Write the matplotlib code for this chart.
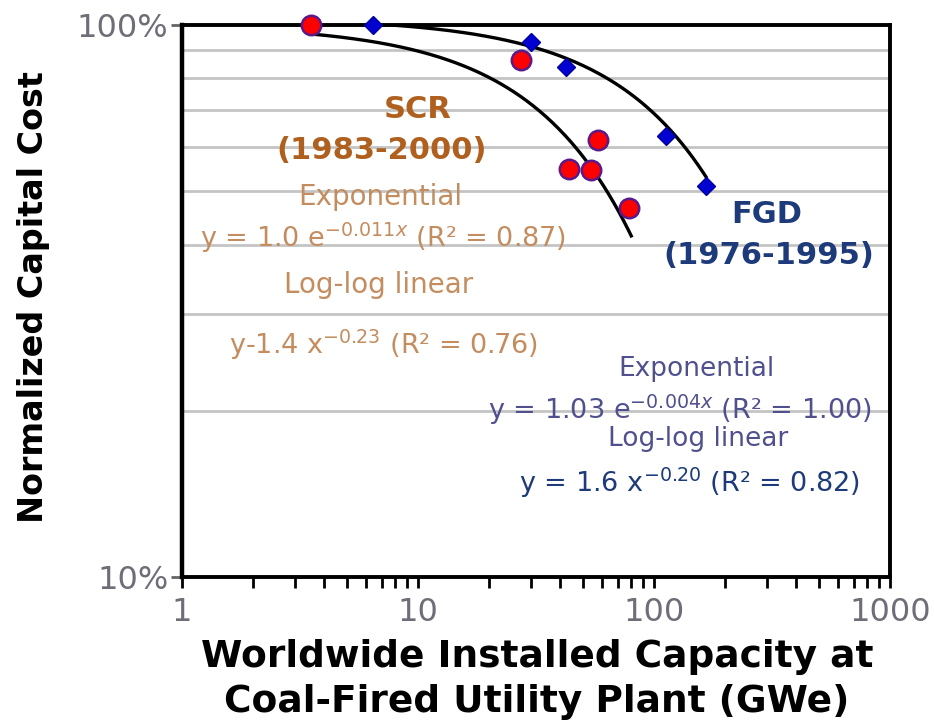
import numpy as np
import matplotlib
matplotlib.use('Agg')
import matplotlib.pyplot as plt
from matplotlib.ticker import FixedLocator, NullFormatter, LogLocator

# SCR observations (GWe, normalized capital cost)
scr_capacity = [3.5, 27.3, 57.9, 43.6, 54.1, 78.3]
scr_cost = [1.0, 0.864, 0.618, 0.547, 0.545, 0.465]

# FGD observations
fgd_capacity = [6.45, 30.1, 42.4, 112.4, 166.0]
fgd_cost = [1.0, 0.931, 0.839, 0.628, 0.51]

# exponential fits shown on the chart: y = a * exp(b * x)
scr_fit = (1.0, -0.011)
fgd_fit = (1.03, -0.004)
scr_fit_range = (3.5, 80)
fgd_fit_range = (4.0, 166)

x_ticks = [1, 10, 100, 1000]
x_tick_labels = ['1', '10', '100', '1000']
y_ticks = [0.1, 1.0]
y_tick_labels = ['10%', '100%']
grid_levels = [0.2, 0.3, 0.4, 0.5, 0.6, 0.7, 0.8, 0.9]

SCR_DARK = '#b0601e'
SCR_LIGHT = '#c48d5f'
FGD_DARK = '#1d3a7a'
FGD_LIGHT = '#50508f'
TICK_GREY = '#6e6e78'

plt.rcParams['font.family'] = ['DejaVu Sans']
plt.rcParams['mathtext.fontset'] = 'dejavusans'


def fit_curve(coef, xr):
    x = np.logspace(np.log10(xr[0]), np.log10(xr[1]), 200)
    return x, coef[0] * np.exp(coef[1] * x)


def note(ax, x, y, s, size, color, bold=False):
    ax.text(x, y, s, transform=ax.transAxes, ha='center', va='center',
            fontsize=size, color=color,
            fontweight='bold' if bold else 'normal')


def main():
    fig = plt.figure(figsize=(9.34, 7.27), dpi=100)
    ax = fig.add_axes([0.195, 0.206, 0.758, 0.76])
    ax.set_xscale('log')
    ax.set_yscale('log')
    ax.set_xlim(1, 1000)
    ax.set_ylim(0.1, 1.0)

    # horizontal grid at the minor decades
    for v in grid_levels:
        ax.axhline(v, color='#c4c4c4', lw=2, zorder=1)

    x, y = fit_curve(scr_fit, scr_fit_range)
    ax.plot(x, y, color='black', lw=2.4, zorder=3)
    x, y = fit_curve(fgd_fit, fgd_fit_range)
    ax.plot(x, y, color='black', lw=2.4, zorder=3)

    ax.plot(scr_capacity, scr_cost, 'o', color='#ff0000', mec='#5a1a8a',
            mew=1.8, ms=14, zorder=4, clip_on=False)
    ax.plot(fgd_capacity, fgd_cost, 'D', color='#0000d0', mec='#0000a0',
            ms=9.5, zorder=5, clip_on=False)

    for side in ['left', 'bottom', 'top', 'right']:
        ax.spines[side].set_color('black')
        ax.spines[side].set_linewidth(2.8)
    ax.spines['left'].set_linewidth(3.2)

    ax.xaxis.set_major_locator(FixedLocator(x_ticks))
    ax.set_xticklabels(x_tick_labels)
    ax.xaxis.set_minor_locator(LogLocator(base=10, subs=np.arange(2, 10)))
    ax.xaxis.set_minor_formatter(NullFormatter())
    ax.tick_params(axis='x', which='both', direction='out', length=8,
                   width=2, color='black', labelsize=23,
                   labelcolor=TICK_GREY, pad=6)

    ax.yaxis.set_major_locator(FixedLocator(y_ticks))
    ax.set_yticklabels(y_tick_labels)
    ax.yaxis.set_minor_locator(FixedLocator([]))
    ax.tick_params(axis='y', which='both', direction='out', length=8,
                   width=2, color='#666666', labelsize=23,
                   labelcolor=TICK_GREY, pad=2)

    ax.set_xlabel('Worldwide Installed Capacity at\nCoal-Fired Utility Plant (GWe)',
                  fontsize=27, fontweight='bold', linespacing=1.3)
    ax.xaxis.set_label_coords(0.501, -0.112)
    ax.set_ylabel('Normalized Capital Cost', fontsize=24, fontweight='bold')
    ax.yaxis.set_label_coords(-0.186, 0.507)

    # SCR annotations
    note(ax, 0.333, 0.846, 'SCR', 22, SCR_DARK, bold=True)
    note(ax, 0.282, 0.773, '(1983-2000)', 22, SCR_DARK, bold=True)
    note(ax, 0.280, 0.688, 'Exponential', 20, SCR_LIGHT)
    note(ax, 0.283, 0.614, r'y = 1.0 e$^{-0.011x}$ (R² = 0.87)', 19.5, SCR_LIGHT)
    note(ax, 0.277, 0.529, 'Log-log linear', 20, SCR_LIGHT)
    note(ax, 0.284, 0.420, r'y-1.4 x$^{-0.23}$ (R² = 0.76)', 19.5, SCR_LIGHT)

    # FGD annotations
    note(ax, 0.826, 0.656, 'FGD', 22, FGD_DARK, bold=True)
    note(ax, 0.828, 0.583, '(1976-1995)', 22, FGD_DARK, bold=True)
    note(ax, 0.727, 0.377, 'Exponential', 19, FGD_LIGHT)
    note(ax, 0.703, 0.303, r'y = 1.03 e$^{-0.004x}$ (R² = 1.00)', 19.5, FGD_LIGHT)
    note(ax, 0.729, 0.251, 'Log-log linear', 19, FGD_LIGHT)
    note(ax, 0.717, 0.171, r'y = 1.6 x$^{-0.20}$ (R² = 0.82)', 19.5, FGD_DARK)

    fig.savefig('out.png', dpi=100)


if __name__ == '__main__':
    main()
